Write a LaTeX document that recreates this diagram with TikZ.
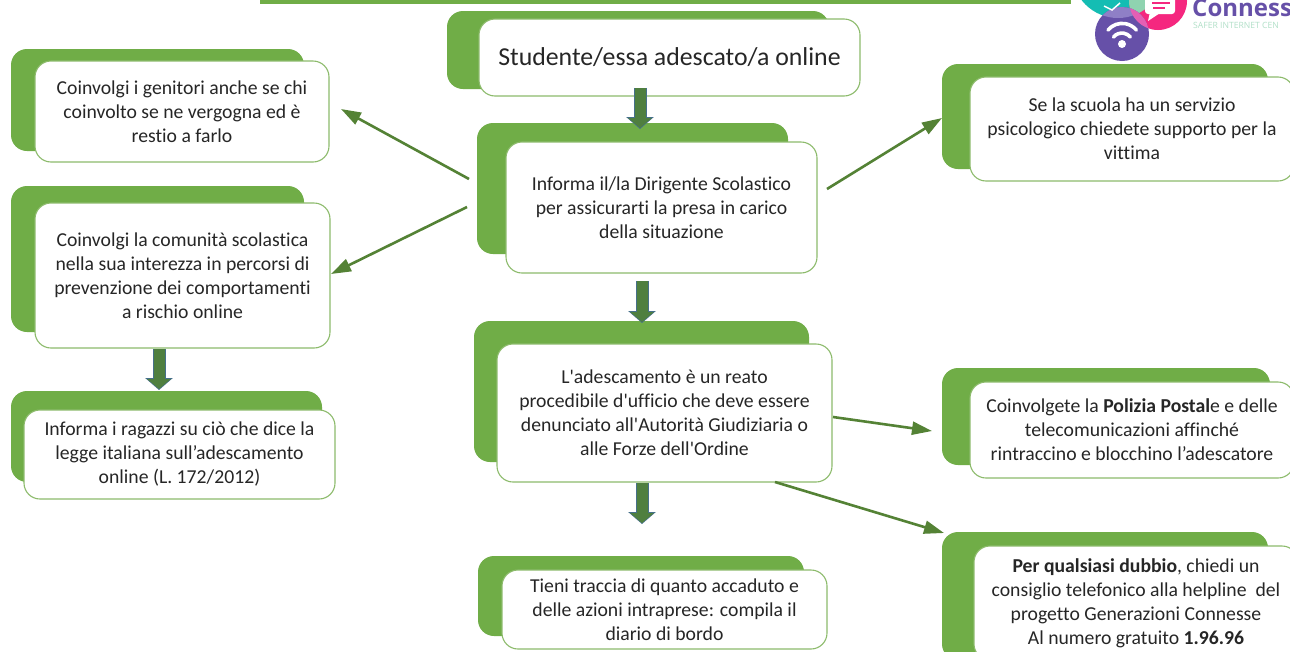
\documentclass[tikz,border=0pt]{standalone}
\usepackage{fontspec}
\setmainfont{Carlito}[Ligatures={NoCommon,TeXOff}]
\newfontfamily\logofont{Open Sans}
\usetikzlibrary{arrows.meta}
\definecolor{gback}{HTML}{70AD47}
\definecolor{gedge}{HTML}{8DBB6C}
\definecolor{garrow}{HTML}{548235}
\definecolor{gblock}{HTML}{4F7F3F}
\definecolor{bblock}{HTML}{46708A}
\definecolor{lteal}{HTML}{14BDB3}
\definecolor{lpink}{HTML}{F5277F}
\definecolor{lviolet}{HTML}{6650A8}
\definecolor{lmint}{HTML}{8FD3B0}
\definecolor{lmag}{HTML}{E45FB4}
\definecolor{llav}{HTML}{8F7FC6}
\tikzset{
 x=1pt,y=-1pt,
 backbox/.style={fill=gback,draw=none,rounded corners=16pt},
 frontbox/.style={draw=gedge,line width=1.1pt,fill=white,rounded corners=16pt,align=center,inner sep=0pt,font=\fontsize{19.7}{24}\selectfont,text=black!85},
 thinarrow/.style={draw=garrow,line width=2.6pt,-{Triangle[width=13pt,length=20pt]}},
 blockedge/.style={draw=bblock,line width=13pt,-{Triangle[width=27pt,length=12pt]}},
 blockfill/.style={draw=gblock,line width=11pt,-{Triangle[width=23pt,length=10pt]}},
}
\newcommand{\blockarrow}[2]{\draw[blockedge] (#1) -- (#2);\draw[blockfill] (#1) -- ([yshift=1pt]#2);}
\begin{document}
\begin{tikzpicture}
\clip (0,0) rectangle (1290,651);
\fill[white] (0,0) rectangle (1290,651);
% top rule
\fill[gback] (260,-2) rectangle (1071,4);
% logo
\fill[lteal] (1118,-28) circle (46);
\fill[lpink] (1158,1) circle (29);
\begin{scope}\clip (1118,-28) circle (46);\fill[lmint] (1158,1) circle (29);\end{scope}
\fill[lviolet] (1122,34) circle (27);
\begin{scope}\clip (1118,-28) circle (46);\fill[llav] (1122,34) circle (27);\end{scope}
\begin{scope}\clip (1158,1) circle (29);\fill[lmag] (1122,34) circle (27);\end{scope}
\fill[white] (1122,44) circle (4);
\draw[white,line width=3.6pt,line cap=round] (1113.5,37) arc[start angle=220,end angle=320,radius=11];
\draw[white,line width=3.6pt,line cap=round] (1108,30) arc[start angle=220,end angle=320,radius=18.5];
\fill[white,rounded corners=3pt] (1145,-8) rectangle (1175,14);
\fill[white] (1150,12) -- (1148,21) -- (1160,13) -- cycle;
\fill[lpink] (1152,2) rectangle (1170,4);
\fill[lpink] (1153,7) rectangle (1165,9);
\draw[white,line width=1.5pt] (1104,6) -- (1112,10) -- (1120,3);
\node[anchor=base west,inner sep=0pt,text=lviolet,font=\logofont\bfseries\fontsize{24}{24}\selectfont] (brand) at (1192,16) {Conness};
\node[anchor=base west,inner sep=0pt,text=lmint!70,font=\logofont\fontsize{8.6}{9}\selectfont] (tag) at (1193,28) {SAFER INTERNET CEN};
% back boxes
\fill[backbox] (447,11) rectangle (829,89);
\fill[backbox] (477,123) rectangle (788,254);
\fill[backbox] (474,321) rectangle (809,462);
\fill[backbox] (11,49) rectangle (304,151);
\fill[backbox] (11,186) rectangle (304,332);
\fill[backbox] (11,391) rectangle (322,482);
\fill[backbox] (942,64) rectangle (1268,169);
\fill[backbox] (942,368) rectangle (1270,465);
\fill[backbox] (942,532) rectangle (1268,660);
\fill[backbox] (478,556) rectangle (804,636);
% front boxes
\node[frontbox,minimum width=381pt,minimum height=77pt,font=\fontsize{25.8}{30}\selectfont] (start) at (669.5,57.5) {Studente/essa adescato/a online};
\node[frontbox,minimum width=311pt,minimum height=131pt] (head) at (661.5,207.5) {Informa il/la Dirigente Scolastico\\per assicurarti la presa in carico\\della situazione};
\node[frontbox,minimum width=335pt,minimum height=138pt] (crime) at (664.5,413) {L'adescamento è un reato\\procedibile d'ufficio che deve essere\\denunciato all'Autorità Giudiziaria o\\alle Forze dell'Ordine};
\node[frontbox,minimum width=294pt,minimum height=101pt] (parents) at (182,111.5) {Coinvolgi i genitori anche se chi\\coinvolto se ne vergogna ed è\\restio a farlo};
\node[frontbox,minimum width=295pt,minimum height=145pt] (school) at (182.5,275.5) {Coinvolgi la comunità scolastica\\nella sua interezza in percorsi di\\prevenzione dei comportamenti\\a rischio online};
\node[frontbox,minimum width=311pt,minimum height=89pt] (law) at (179.5,454.5) {Informa i ragazzi su ciò che dice la\\legge italiana sull’adescamento\\online (L. 172/2012)};
\node[frontbox,minimum width=324pt,minimum height=104pt] (psy) at (1132,129) {Se la scuola ha un servizio\\psicologico chiedete supporto per la\\vittima};
\node[frontbox,minimum width=324pt,minimum height=96pt] (police) at (1132,430) {Coinvolgete la \textbf{Polizia Postal}e e delle\\telecomunicazioni affinché\\rintraccino e blocchino l’adescatore};
\node[frontbox,minimum width=324pt,minimum height=114pt] (help) at (1136,603) {\textbf{Per qualsiasi dubbio}, chiedi un\\consiglio telefonico alla helpline\ \ del\\progetto Generazioni Connesse\\Al numero gratuito \textbf{1.96.96}};
\node[frontbox,minimum width=325pt,minimum height=79pt] (diary) at (664.5,609.5) {Tieni traccia di quanto accaduto e\\delle azioni intraprese: compila il\\diario di bordo};
% connector ends
\coordinate (a1s) at (469,179); \coordinate (a1e) at (341,109);
\coordinate (a2s) at (467,207); \coordinate (a2e) at (331,274);
\coordinate (a3s) at (827,189); \coordinate (a3e) at (942,118);
\coordinate (a4s) at (833,417); \coordinate (a4e) at (932,431);
\coordinate (a5s) at (775,482); \coordinate (a5e) at (944,533);
\coordinate (b1s) at (640,88);  \coordinate (b1e) at (640,129);
\coordinate (b2s) at (642,281); \coordinate (b2e) at (642,323);
\coordinate (b3s) at (642,483); \coordinate (b3e) at (642,524);
\coordinate (b4s) at (159,349); \coordinate (b4e) at (159,390);
\draw[thinarrow] (a1s) -- (a1e);
\draw[thinarrow] (a2s) -- (a2e);
\draw[thinarrow] (a3s) -- (a3e);
\draw[thinarrow] (a4s) -- (a4e);
\draw[thinarrow] (a5s) -- (a5e);
\blockarrow{b1s}{b1e}
\blockarrow{b2s}{b2e}
\blockarrow{b3s}{b3e}
\blockarrow{b4s}{b4e}
\end{tikzpicture}
\end{document}
